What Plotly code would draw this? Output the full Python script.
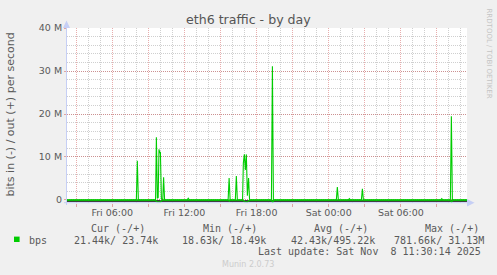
import plotly.graph_objects as go

# ---------------- data ----------------
out_times = [
    "2025-11-07 02:14", "2025-11-07 08:00", "2025-11-07 08:05", "2025-11-07 08:10",
    "2025-11-07 09:36", "2025-11-07 09:40", "2025-11-07 09:45", "2025-11-07 09:49",
    "2025-11-07 09:53", "2025-11-07 09:57", "2025-11-07 10:00", "2025-11-07 10:05",
    "2025-11-07 10:12", "2025-11-07 10:16", "2025-11-07 10:21",
    "2025-11-07 12:14", "2025-11-07 12:19", "2025-11-07 12:24",
    "2025-11-07 15:38", "2025-11-07 15:43", "2025-11-07 15:48",
    "2025-11-07 16:14", "2025-11-07 16:19", "2025-11-07 16:24",
    "2025-11-07 16:50", "2025-11-07 16:54", "2025-11-07 16:59", "2025-11-07 17:04",
    "2025-11-07 17:09", "2025-11-07 17:14", "2025-11-07 17:20", "2025-11-07 17:25",
    "2025-11-07 19:14", "2025-11-07 19:19", "2025-11-07 19:24",
    "2025-11-08 00:38", "2025-11-08 00:43", "2025-11-08 00:48",
    "2025-11-08 01:38", "2025-11-08 01:43", "2025-11-08 01:48",
    "2025-11-08 02:43", "2025-11-08 02:48", "2025-11-08 02:53",
    "2025-11-08 09:19", "2025-11-08 09:24", "2025-11-08 09:29",
    "2025-11-08 10:07", "2025-11-08 10:12", "2025-11-08 10:17",
    "2025-11-08 11:30",
]
out_bps = [
    24e3, 24e3, 9.1e6, 30e3,
    24e3, 14.6e6, 0.4e6, 0.6e6,
    11.8e6, 10.9e6, 11.2e6, 0.3e6,
    50e3, 5.3e6, 24e3,
    24e3, 0.4e6, 24e3,
    24e3, 5.1e6, 24e3,
    24e3, 5.6e6, 24e3,
    60e3, 8.6e6, 10.6e6, 7.0e6,
    10.6e6, 1.0e6, 5.1e6, 30e3,
    24e3, 31.13e6, 24e3,
    24e3, 3.0e6, 24e3,
    24e3, 0.3e6, 24e3,
    24e3, 2.6e6, 24e3,
    24e3, 0.3e6, 24e3,
    24e3, 19.5e6, 24e3,
    24e3,
]

in_times = [
    "2025-11-07 02:14", "2025-11-07 09:36", "2025-11-07 09:42", "2025-11-07 09:50",
    "2025-11-07 10:02", "2025-11-07 10:08", "2025-11-07 15:40", "2025-11-07 15:44",
    "2025-11-07 15:48", "2025-11-07 16:52", "2025-11-07 17:00", "2025-11-07 17:15",
    "2025-11-07 17:24", "2025-11-07 19:16", "2025-11-07 19:20", "2025-11-07 19:25",
    "2025-11-08 10:08", "2025-11-08 10:13", "2025-11-08 10:18", "2025-11-08 11:30",
]
in_bps = [
    -21e3, -21e3, -0.45e6, -0.5e6,
    -0.45e6, -21e3, -21e3, -0.25e6,
    -21e3, -21e3, -0.4e6, -0.5e6,
    -21e3, -21e3, -0.78e6, -21e3,
    -21e3, -0.6e6, -21e3, -21e3,
]

x_start, x_end = "2025-11-07 02:14", "2025-11-08 11:30"
y_tick_vals = [0, 10e6, 20e6, 30e6, 40e6]
y_tick_text = ["0", "10 M", "20 M", "30 M", "40 M"]
x_label_vals = ["2025-11-07 06:00", "2025-11-07 12:00", "2025-11-07 18:00",
                "2025-11-08 00:00", "2025-11-08 06:00"]
x_label_text = ["Fri 06:00", "Fri 12:00", "Fri 18:00", "Sat 00:00", "Sat 06:00"]
legend_cols = ["Cur (-/+)", "Min (-/+)", "Avg (-/+)", "Max (-/+)"]
legend_vals = ["21.44k/ 23.74k", "18.63k/ 18.49k", "42.43k/495.22k", "781.66k/ 31.13M"]
series_name = "bps"
last_update = "Last update: Sat Nov  8 11:30:14 2025"

# ---------------- layout helpers ----------------
W, H = 497, 275
L, R, T, B = 67, 30, 28, 72
PW, PH = W - L - R, H - T - B


def px(x):
    return (x - L) / PW


def py(y):
    return (H - B - y) / PH


GREEN = "#00CC00"
MGRID = "rgba(200,60,60,0.42)"
GRID = "rgba(140,140,140,0.42)"
AXIS = "#c6cff5"
FONT = "DejaVu Sans"
MONO = "DejaVu Sans Mono"
TXT = "#5a5a5a"

fig = go.Figure()
fig.add_trace(go.Scatter(x=in_times, y=in_bps, mode="lines",
                         line=dict(color=GREEN, width=1.1), hoverinfo="skip",
                         showlegend=False))
fig.add_trace(go.Scatter(x=out_times, y=out_bps, mode="lines",
                         line=dict(color=GREEN, width=1.1), hoverinfo="skip",
                         showlegend=False))
# invisible trace on xaxis2 so its labels render
fig.add_trace(go.Scatter(x=[x_start, x_end], y=[0, 0], xaxis="x2", mode="lines",
                         line=dict(width=0), hoverinfo="skip", showlegend=False))

fig.update_layout(
    width=W, height=H,
    margin=dict(l=L, r=R, t=T, b=B),
    paper_bgcolor="#F0F0F0", plot_bgcolor="#FFFFFF",
    showlegend=False,
    xaxis=dict(type="date", range=[x_start, x_end], showgrid=True,
               gridcolor=MGRID, griddash="1px,1px", gridwidth=1,
               dtick=3 * 3600 * 1000, tick0="2025-11-07 00:00",
               ticks="outside", ticklen=3, tickcolor=MGRID,
               showticklabels=False, zeroline=False, showline=False,
               minor=dict(dtick=3600 * 1000, tick0="2025-11-07 00:00",
                          showgrid=True, gridcolor=GRID, griddash="1px,1px",
                          ticks="")),
    xaxis2=dict(type="date", range=[x_start, x_end], overlaying="x", anchor="y",
                side="bottom", showgrid=False, zeroline=False, showline=False,
                tickmode="array", tickvals=x_label_vals, ticktext=x_label_text,
                ticks="", ticklabelstandoff=2,
                tickfont=dict(family=FONT, size=9.5, color=TXT)),
    yaxis=dict(range=[-0.7e6, 40e6], tickmode="array", tickvals=y_tick_vals,
               ticktext=y_tick_text, showgrid=True, gridcolor=MGRID,
               griddash="1px,1px", ticks="outside", ticklen=2, tickcolor=MGRID,
               zeroline=False, showline=False,
               tickfont=dict(family=FONT, size=9.5, color=TXT),
               minor=dict(dtick=2e6, tick0=0, showgrid=True, gridcolor=GRID,
                          griddash="1px,1px", ticks="")),
)

shapes = [
    # zero line
    dict(type="line", xref="paper", x0=0, x1=1, yref="y", ysizemode="pixel",
         yanchor=0, y0=-1, y1=-1, line=dict(color="#000000", width=1.3),
         layer="between"),
    # y axis line + arrow
    dict(type="line", xref="paper", yref="paper", x0=px(66.5), x1=px(66.5),
         y0=py(205), y1=py(24), line=dict(color=AXIS, width=1)),
    dict(type="path", xref="paper", yref="paper",
         path=f"M {px(63)},{py(28)} L {px(70)},{py(28)} L {px(66.5)},{py(20.5)} Z",
         fillcolor=AXIS, line=dict(width=0)),
    # x axis line + arrow
    dict(type="line", xref="paper", yref="paper", x0=px(64), x1=px(468),
         y0=py(202.7), y1=py(202.7), line=dict(color=AXIS, width=1)),
    dict(type="path", xref="paper", yref="paper",
         path=f"M {px(467)},{py(199)} L {px(467)},{py(206.4)} L {px(474.5)},{py(202.7)} Z",
         fillcolor=AXIS, line=dict(width=0)),
    # legend swatch
    dict(type="rect", xref="paper", yref="paper", x0=px(14), x1=px(19.6),
         y0=py(242), y1=py(236.6), fillcolor=GREEN, line=dict(width=0)),
]
fig.update_layout(shapes=shapes)

ann = []
ann.append(dict(text="eth6 traffic - by day", x=px(248.5), y=py(19.5),
                font=dict(family=FONT, size=12.6, color="#555555")))
ann.append(dict(text="bits in (-) / out (+) per second", x=px(10), y=py(114.5),
                textangle=-90, font=dict(family=FONT, size=11, color=TXT)))
ann.append(dict(text="RRDTOOL / TOBI OETIKER", x=px(488.5), y=py(53),
                textangle=90, font=dict(family=FONT, size=7, color="#c4c4c4")))
for txt, x in zip(legend_cols, [89.3, 201, 312.3, 423]):
    ann.append(dict(text=txt, x=px(x), y=py(228), xanchor="left",
                    font=dict(family=MONO, size=10, color=TXT)))
ann.append(dict(text=series_name, x=px(26.7), y=py(240), xanchor="left",
                font=dict(family=MONO, size=10, color=TXT)))
for txt, x in zip(legend_vals, [72.3, 180.3, 289.3, 391.7]):
    ann.append(dict(text=txt, x=px(x), y=py(240), xanchor="left",
                    font=dict(family=MONO, size=10, color=TXT)))
ann.append(dict(text=last_update.replace(" ", "&nbsp;"), x=px(482.5), y=py(251.5),
                xanchor="right", font=dict(family=MONO, size=10, color=TXT)))
ann.append(dict(text="Munin 2.0.73", x=px(248), y=py(264.5),
                font=dict(family=FONT, size=8, color="#cccccc")))
for a in ann:
    a.update(xref="paper", yref="paper", showarrow=False)
    a.setdefault("xanchor", "center")
    a.setdefault("yanchor", "middle")
fig.update_layout(annotations=ann)

fig.write_html("out.html")
